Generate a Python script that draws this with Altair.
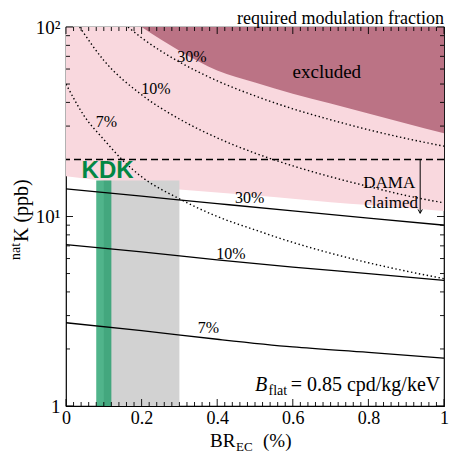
import altair as alt
import pandas as pd

# ---------------- data ----------------
BR_GRID = [0.0, 0.1, 0.2, 0.3, 0.4, 0.5, 0.6, 0.7, 0.8, 0.9, 1.0]
ALLOWED_LOWER = [16.3, 15.4, 14.6, 13.9, 13.4, 12.9, 12.4, 11.9, 11.5, 11.1, 10.7]

EXCL_X = [0.2, 0.3, 0.4, 0.5, 0.6, 0.7, 0.8, 0.9, 1.0]
EXCL_LOWER = [100, 75, 59, 51, 44.5, 39.5, 35, 31, 27.5]

SOLID_X = [0.0, 0.2, 0.4, 0.6, 0.8, 1.0]
SOLID_30 = [14.0, 12.8, 11.7, 10.7, 9.8, 9.0]
SOLID_10 = [7.1, 6.5, 5.9, 5.4, 5.0, 4.6]
SOLID_7 = [2.75, 2.5, 2.25, 2.05, 1.92, 1.79]

DOT30_X = [0.164, 0.2, 0.3, 0.4, 0.5, 0.6, 0.7, 0.8, 0.9, 1.0]
DOT30_Y = [100, 87.7, 65.4, 52, 43.3, 37, 32.4, 28.7, 25.8, 23.5]
DOT10_X = [0.036, 0.1, 0.2, 0.3, 0.4, 0.5, 0.6, 0.7, 0.8, 0.9, 1.0]
DOT10_Y = [100, 66.7, 43.9, 32.7, 26, 21.6, 18.5, 16.2, 14.4, 12.9, 11.8]
DOT7_X = [0.0, 0.05, 0.1, 0.15, 0.2, 0.3, 0.4, 0.5, 0.6, 0.7, 0.8, 0.9, 1.0]
DOT7_Y = [50, 33.5, 25.5, 19.8, 16.2, 12.4, 10.0, 8.5, 7.3, 6.4, 5.7, 5.15, 4.7]

LABEL_TEXT = ["30%", "10%", "7%", "30%", "10%", "7%"]
LABEL_X = [0.486, 0.436, 0.377, 0.333, 0.238, 0.107]
LABEL_Y = [12.5, 6.37, 2.57, 69.2, 46.9, 31.6]

GRAY_BAND = [0.10, 0.30]
KDK_BAND = [0.08, 0.12]
BAND_BOTTOM = 1
BAND_TOP = 15.5
DAMA_LEVEL = 20
ARROW_X = 0.937
ARROW_END = 10.4

X_MAJOR = [0, 0.2, 0.4, 0.6, 0.8, 1.0]
X_MINOR = [round(i * 0.02, 2) for i in range(51) if i % 10]
Y_MAJOR = [1, 10, 100]
Y_MINOR = [2, 3, 4, 5, 6, 7, 8, 9, 20, 30, 40, 50, 60, 70, 80, 90]

# ---------------- styling ----------------
W, H = 378, 379
SERIF = "Liberation Serif"
PINK = "#f9d8de"
MAROON = "#bb7385"
GRAY = "#d2d2d2"
GREEN = "#06945a"
KDK_COLOR = "#038744"

xs = alt.Scale(domain=[0, 1], nice=False, zero=False)
ys = alt.Scale(type="log", domain=[1, 100], nice=False)

x_axis = alt.Axis(values=X_MAJOR, title=None, ticks=False, domain=False, grid=False,
                  labelExpr="datum.value == 0 ? '0' : datum.value == 1 ? '1' : format(datum.value, '.1f')",
                  labelFont=SERIF, labelFontSize=18, labelColor="black", labelPadding=3,
                  labelFlush=False, labelOverlap=False)
y_axis = alt.Axis(values=Y_MAJOR, title=None, ticks=False, domain=False, grid=False,
                  labelExpr="datum.value == 100 ? '10²' : datum.value == 10 ? '10¹' : '1'",
                  labelFont=SERIF, labelFontSize=19, labelColor="black", labelPadding=6,
                  labelFlush=False, labelOverlap=False)


def X(f="x"):
    return alt.X(f"{f}:Q", scale=xs, axis=x_axis)


def Y(f="y"):
    return alt.Y(f"{f}:Q", scale=ys, axis=y_axis)


allowed_df = pd.DataFrame({"x": BR_GRID, "lo": ALLOWED_LOWER, "hi": [100] * len(BR_GRID)})
excl_df = pd.DataFrame({"x": EXCL_X, "lo": EXCL_LOWER, "hi": [100] * len(EXCL_X)})

allowed = alt.Chart(allowed_df).mark_area(color=PINK, clip=True, interpolate="monotone").encode(
    x=X(), y=Y("lo"), y2="hi:Q")
excluded = alt.Chart(excl_df).mark_area(color=MAROON, clip=True, interpolate="monotone").encode(
    x=X(), y=Y("lo"), y2="hi:Q")

gray = alt.Chart(pd.DataFrame({"x": [GRAY_BAND[0]], "x2": [GRAY_BAND[1]],
                               "y": [BAND_BOTTOM], "y2": [BAND_TOP]})).mark_rect(color=GRAY).encode(
    x=X(), x2="x2:Q", y=Y(), y2="y2:Q")
green = alt.Chart(pd.DataFrame({"x": [KDK_BAND[0]], "x2": [KDK_BAND[1]],
                                "y": [BAND_BOTTOM], "y2": [BAND_TOP]})).mark_rect(color=GREEN, opacity=0.7).encode(
    x=X(), x2="x2:Q", y=Y(), y2="y2:Q")

dashed = alt.Chart(pd.DataFrame({"y": [DAMA_LEVEL]})).mark_rule(
    color="black", strokeDash=[7, 4], strokeWidth=1.6).encode(y=Y())

solid_df = pd.concat([
    pd.DataFrame({"x": SOLID_X, "y": SOLID_30, "s": "30"}),
    pd.DataFrame({"x": SOLID_X, "y": SOLID_10, "s": "10"}),
    pd.DataFrame({"x": SOLID_X, "y": SOLID_7, "s": "7"}),
])
dot_df = pd.concat([
    pd.DataFrame({"x": DOT30_X, "y": DOT30_Y, "s": "30"}),
    pd.DataFrame({"x": DOT10_X, "y": DOT10_Y, "s": "10"}),
    pd.DataFrame({"x": DOT7_X, "y": DOT7_Y, "s": "7"}),
])
solid = alt.Chart(solid_df).mark_line(color="black", strokeWidth=1.3, interpolate="monotone").encode(
    x=X(), y=Y(), detail="s:N")
dotted = alt.Chart(dot_df).mark_line(color="black", strokeWidth=1.4, strokeDash=[1.4, 2.6],
                                     interpolate="monotone", clip=True).encode(
    x=X(), y=Y(), detail="s:N")

arrow_line = alt.Chart(pd.DataFrame({"x": [ARROW_X], "y": [DAMA_LEVEL], "y2": [ARROW_END]})).mark_rule(
    color="black", strokeWidth=1).encode(x=X(), y=Y(), y2="y2:Q")
arrow_head = alt.Chart(pd.DataFrame({"x": [ARROW_X], "y": [ARROW_END]})).mark_point(
    shape="M-0.55,-1L0,0L0.55,-1", filled=False, color="black", strokeWidth=1, size=60, opacity=1).encode(
    x=X(), y=Y())

labels = alt.Chart(pd.DataFrame({"x": LABEL_X, "y": LABEL_Y, "t": LABEL_TEXT})).mark_text(
    font=SERIF, fontSize=16, color="black").encode(x=X(), y=Y(), text="t:N")


def note(x, y, t, **kw):
    return alt.Chart(pd.DataFrame({"x": [x], "y": [y], "t": [t]})).mark_text(**kw).encode(
        x=X(), y=Y(), text="t:N")


def pnote(px, py, t, **kw):
    return alt.Chart(pd.DataFrame({"t": [t]})).mark_text(**kw).encode(
        x=alt.value(px), y=alt.value(py), text="t:N")


texts = [
    note(0.69, 58, "excluded", font=SERIF, fontSize=19, color="black"),
    note(0.855, 15.0, "DAMA", font=SERIF, fontSize=17, color="black"),
    note(0.86, 11.8, "claimed", font=SERIF, fontSize=17, color="black"),
    note(0.11, 16.0, "KDK", font="Liberation Sans", fontSize=24, fontWeight="bold",
         color=KDK_COLOR, baseline="alphabetic"),
    # B_flat = 0.85 cpd/kg/keV
    note(0.99, 1.195, "= 0.85 cpd/kg/keV", font=SERIF, fontSize=20, color="black",
         align="right", baseline="alphabetic"),
    note(0.99, 1.195, "flat", font=SERIF, fontSize=14, color="black",
         align="right", baseline="alphabetic", dx=-153, dy=4),
    note(0.99, 1.195, "B", font=SERIF, fontSize=20, fontStyle="italic", color="black",
         align="right", baseline="alphabetic", dx=-173),
    # top title
    pnote(W, -3, "required modulation fraction", font=SERIF, fontSize=18, color="black",
          align="right", baseline="alphabetic"),
    # x title
    pnote(144, H + 41, "BR", font=SERIF, fontSize=19, color="black", align="left", baseline="alphabetic"),
    pnote(170, H + 45, "EC", font=SERIF, fontSize=13, color="black", align="left", baseline="alphabetic"),
    pnote(197, H + 41, "(%)", font=SERIF, fontSize=19, color="black", align="left", baseline="alphabetic"),
    # y title (rotated)
    pnote(-46, 233, "nat", font=SERIF, fontSize=14, color="black", align="left",
          baseline="alphabetic", angle=270),
    pnote(-38, 215, "K (ppb)", font=SERIF, fontSize=20, color="black", align="left",
          baseline="alphabetic", angle=270),
]

MAJ, MIN = 7, 4


def xticks(vals, length):
    d = alt.Chart(pd.DataFrame({"x": vals}))
    return [
        d.mark_rule(color="black", strokeWidth=0.9).encode(x=X(), y=alt.value(H), y2=alt.value(H - length)),
        d.mark_rule(color="black", strokeWidth=0.9).encode(x=X(), y=alt.value(0), y2=alt.value(length)),
    ]


def yticks(vals, length):
    d = alt.Chart(pd.DataFrame({"y": vals}))
    return [
        d.mark_rule(color="black", strokeWidth=0.9).encode(y=Y(), x=alt.value(0), x2=alt.value(length)),
        d.mark_rule(color="black", strokeWidth=0.9).encode(y=Y(), x=alt.value(W), x2=alt.value(W - length)),
    ]


ticks = xticks(X_MAJOR, MAJ) + xticks(X_MINOR, MIN) + yticks(Y_MAJOR, MAJ) + yticks(Y_MINOR, MIN)

chart = alt.layer(
    allowed, excluded, gray, green, dashed, dotted, solid, arrow_line, arrow_head, labels,
    *texts, *ticks
).properties(
    width=W, height=H,
    autosize=alt.AutoSizeParams(type="none"),
    padding={"left": 58, "top": 19, "right": 5, "bottom": 48},
).configure_view(stroke="black", strokeWidth=1.2)

chart.save("out.html", embed_options={"renderer": "svg", "actions": False})
